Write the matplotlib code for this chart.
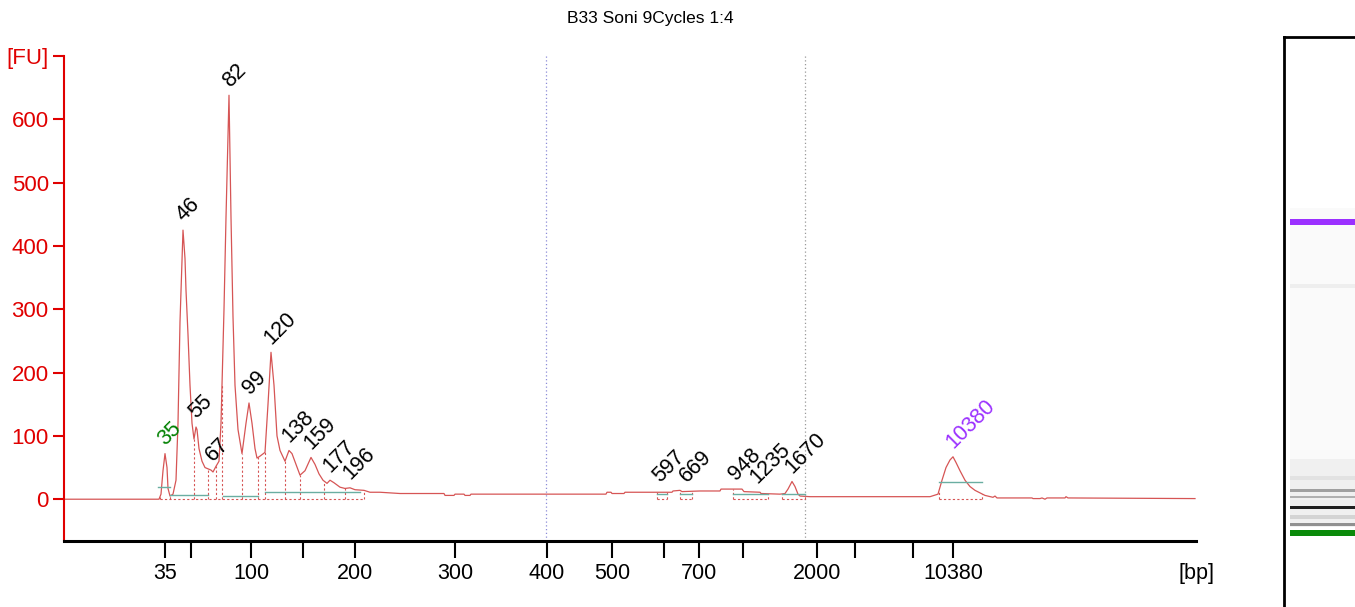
import numpy as np
import matplotlib
matplotlib.use("Agg")
import matplotlib.pyplot as plt

plt.rcParams['font.family'] = ['Liberation Sans', 'DejaVu Sans']

# ---------------------------------------------------------
# electropherogram data (migration time in s, signal in FU)
# ---------------------------------------------------------
trace_t = [6.4, 15.9, 16.1, 16.3, 16.5, 16.7, 16.8, 17.0, 17.3, 17.6, 17.8, 18.0, 18.1, 18.3,
           18.5, 18.6, 18.8, 19.0, 19.2, 19.4, 19.6, 19.7, 19.9, 20.2, 20.5, 20.8, 21.1, 21.3,
           21.6, 21.9, 22.1, 22.4, 22.6, 22.9, 23.1, 23.3, 23.5, 23.8, 24.2, 24.6, 24.9, 25.2,
           25.5, 25.7, 26.0, 26.5, 26.8, 27.1, 27.4, 27.7, 28.0, 28.5, 28.9, 29.2, 29.6, 30.0,
           30.5, 31.1, 31.5, 31.9, 32.3, 32.7, 33.0, 33.4, 34.0, 34.5, 35.0, 35.5, 36.4, 37.0,
           38.0, 39.0, 40.0, 44.4, 44.5, 45.4, 45.5, 46.4, 46.5, 47.0, 47.1, 60.6, 60.7, 61.1,
           61.2, 62.4, 62.5, 65.5, 66.0, 67.2, 67.3, 68.0, 68.2, 70.0, 72.0, 72.1, 74.2, 74.4,
           76.0, 76.1, 78.0, 78.5, 78.8, 79.2, 79.5, 79.8, 80.0, 81.0, 92.5, 93.0, 93.8, 94.2,
           94.6, 95.0, 95.3, 95.6, 96.0, 96.5, 97.0, 97.5, 98.0, 98.5, 99.3, 99.5, 99.7, 103.2,
           103.3, 104.0, 104.2, 104.5, 104.7, 106.5, 106.6, 106.8, 119.5]
trace_fu = [0, 0, 8, 45, 72, 50, 17, 5, 8, 30, 120, 280, 330, 425,
            380, 330, 260, 180, 120, 95, 114, 110, 80, 60, 50, 48, 46, 43,
            52, 60, 120, 300, 445, 638, 445, 288, 180, 110, 72, 120, 152, 120,
            80, 65, 68, 74, 150, 232, 180, 100, 77, 60, 77, 72, 55, 38,
            45, 66, 55, 40, 30, 25, 30, 26, 19, 17, 18, 15, 14, 11,
            11, 10, 9, 9, 6, 6, 8, 8, 6, 6, 8, 8, 11, 11,
            9, 9, 11, 11, 11, 11, 13, 14, 12, 13, 13, 16, 16, 12,
            11, 9, 8, 9, 16, 28, 20, 8, 5, 4, 4, 4, 8, 30,
            50, 62, 67, 58, 45, 30, 20, 14, 10, 6, 3, 5, 2, 2,
            1, 1, 2, 0, 2, 2, 4, 2, 1]

# called peaks
peak_bp = ['35', '46', '55', '67', '82', '99', '120', '138', '159', '177', '196',
           '597', '669', '948', '1235', '1670', '10380']
peak_t = [16.5, 18.3, 19.6, 21.2, 22.9, 24.9, 27.1, 28.9, 31.1, 33.0, 35.0,
          66.0, 68.6, 73.5, 75.7, 79.2, 95.3]
peak_fu = [72, 425, 114, 46, 638, 152, 232, 77, 66, 30, 18,
           13, 14, 16, 12, 28, 67]
peak_color = ['green'] + ['black'] * 15 + ['#9b30ff']

# peak region borders and height markers
border_t = [16.0, 17.0, 19.4, 20.8, 21.6, 22.2, 24.2, 25.8, 26.5, 28.5, 30.0, 32.4, 34.5, 36.4,
            65.7, 66.7, 68.0, 69.2, 73.3, 76.8, 78.2, 80.5, 93.9, 98.2]
base_start = [16.0, 65.7, 68.0, 73.3, 78.2, 93.9]
base_end = [36.4, 66.7, 69.2, 76.8, 80.5, 98.2]
mark_start = [15.8, 17.0, 22.3, 26.5, 65.7, 68.0, 73.3, 78.2, 93.9]
mark_end = [17.0, 20.8, 25.8, 36.0, 66.7, 69.2, 76.8, 80.5, 98.2]
mark_fu = [19, 6, 5, 11, 9, 9, 9, 8, 27]

# size ladder ticks
tick_t = [16.5, 19.1, 25.1, 30.3, 35.5, 45.5, 54.7, 61.2, 66.4, 69.9, 74.3, 81.7, 85.5, 91.3, 95.3]
tick_lab = ['35', '', '100', '', '200', '300', '400', '500', '', '700', '', '2000', '', '', '10380']
marker_line_t = [54.6, 80.5]

# gel lane bands (fraction of lane from top, colour, thickness)
band_pos = [0.325, 0.437, 0.774, 0.795, 0.807, 0.826, 0.842, 0.856, 0.870]
band_col = ['#9b30ff', '#eeeeee', '#e2e2e2', '#a0a0a0', '#b0b0b0', '#202020', '#d4d4d4', '#909090', '#0a8a0a']
band_h = [0.010, 0.006, 0.008, 0.005, 0.005, 0.005, 0.006, 0.005, 0.011]

# ---------------------------------------------------------
fig = plt.figure(figsize=(13.55, 6.07), dpi=100)
ax = fig.add_axes([64 / 1355, 1 - 541 / 607, (1196 - 64) / 1355, (541 - 56) / 607])

red = '#e00000'
trace_col = '#d65555'
ax.plot(trace_t, trace_fu, color=trace_col, lw=0.9)

ax.axvline(marker_line_t[0], color='#8c8cd8', lw=0.9, ls=(0, (1, 2)))
ax.axvline(marker_line_t[1], color='#999999', lw=0.9, ls=(0, (1, 2)))

tt = np.array(trace_t)
ff = np.array(trace_fu)
for t in border_t:
    ax.plot([t, t], [1, np.interp(t, tt, ff)], color=trace_col, lw=0.8, ls=(0, (2, 2)))
for a, b in zip(base_start, base_end):
    ax.plot([a, b], [1, 1], color=trace_col, lw=0.8, ls=(0, (2, 2)))
for a, b, h in zip(mark_start, mark_end, mark_fu):
    ax.plot([a, b], [h, h], color='#6aaea2', lw=1.0)

for lab, t, h, c in zip(peak_bp, peak_t, peak_fu, peak_color):
    ax.annotate(lab, (t, h), xytext=(3, 3), textcoords='offset points',
                rotation=45, rotation_mode='anchor', ha='left', va='bottom',
                fontsize=15.5, color=c)

ax.set_xlim(6.4, 119.6)
ax.set_ylim(-66, 700)
ax.set_yticks([0, 100, 200, 300, 400, 500, 600, 700])
ax.set_yticklabels(['0', '100', '200', '300', '400', '500', '600', '[FU]'])
ax.set_xticks(tick_t)
ax.set_xticklabels(tick_lab)
ax.tick_params(axis='y', colors=red, labelcolor=red, length=8, width=1.5, labelsize=16, pad=3)
ax.tick_params(axis='x', colors='black', length=12, width=1.5, labelsize=15.5, pad=4)
for s in ['top', 'right']:
    ax.spines[s].set_visible(False)
ax.spines['left'].set_color(red)
ax.spines['left'].set_linewidth(1.5)
ax.spines['bottom'].set_linewidth(2.2)
ax.text(1.0, -0.045, '[bp]', transform=ax.transAxes, ha='center', va='top', fontsize=15.5)

fig.text(650 / 1355, 1 - 18 / 607, 'B33 Soni 9Cycles 1:4', ha='center', va='center', fontsize=12.5)

# gel lane
gx = fig.add_axes([1284 / 1355, -0.02, 0.07, 1 - 37 / 607 + 0.02])
gx.set_xlim(0, 1)
gx.set_ylim(1 + 0.02 * 607 / 570, 0)
gx.set_facecolor('white')
gx.axhspan(0.30, 0.74, xmin=0.06, xmax=1, color='#fafafa', lw=0)
gx.axhspan(0.74, 0.86, xmin=0.06, xmax=1, color='#f0f0f0', lw=0)
for p, c, h in zip(band_pos, band_col, band_h):
    gx.axhspan(p - h / 2, p + h / 2, xmin=0.06, xmax=1, color=c, lw=0)
gx.set_xticks([])
gx.set_yticks([])
for s in gx.spines.values():
    s.set_linewidth(2)
    s.set_color('black')

fig.savefig('out.png', dpi=100)
